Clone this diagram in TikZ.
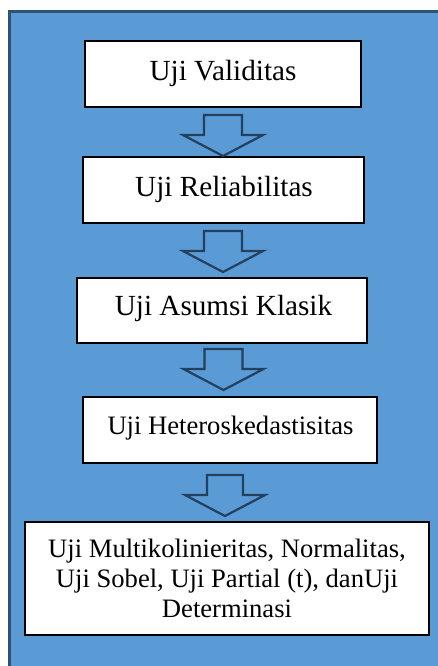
\documentclass[tikz,border=0pt]{standalone}
\usepackage{fontspec}
\setmainfont{Liberation Serif}
\definecolor{bg}{HTML}{5B9BD5}
\definecolor{framecol}{HTML}{2F5275}
\definecolor{arrcol}{HTML}{23405F}
\begin{document}
\begin{tikzpicture}[x=0.5pt,y=-0.5pt,
  box/.style={draw=black,line width=0.6pt,fill=white,inner sep=0pt},
  lbl/.style={anchor=base,inner sep=0pt,font=\fontsize{14.6}{17}\selectfont},
  lblsmall/.style={anchor=base,inner sep=0pt,font=\fontsize{13.3}{16}\selectfont},
  blockarrow/.style={draw=arrcol,line width=1.1pt,line join=miter}]
\useasboundingbox (0,0) rectangle (438,666);
\begin{scope}
  \clip (0,0) rectangle (438,666);
  \draw[fill=bg,draw=framecol,line width=1.4pt] (9.5,11.5) rectangle (470,700);
\end{scope}
% boxes
\node[box,minimum width=138pt,minimum height=33pt] (b1) at (223,74) {};
\node[box,minimum width=140.5pt,minimum height=33pt] (b2) at (223.5,190) {};
\node[box,minimum width=145pt,minimum height=32.5pt] (b3) at (222,310.5) {};
\node[box,minimum width=147pt,minimum height=33pt] (b4) at (230,430) {};
\node[box,minimum width=202pt,minimum height=56.5pt] (b5) at (227,578.5) {};
% labels
\node[lbl] (t1) at (223,80) {Uji Validitas};
\node[lbl] (t2) at (224,196) {Uji Reliabilitas};
\node[lbl] (t3) at (223.5,315) {Uji Asumsi Klasik};
\node[lblsmall] (t4) at (230.5,434) {Uji Heteroskedastisitas};
\node[lblsmall] (t5a) at (227,557) {Uji Multikolinieritas, Normalitas,};
\node[lblsmall] (t5b) at (227,587) {Uji Sobel, Uji Partial (t), danUji};
\node[lblsmall] (t5c) at (227,617.5) {Determinasi};
% block arrows
\foreach \cx/\sh/\hh/\top/\shd/\tip in {223/19/40/115/135/156, 223/19/40/231/251/272, 223.5/19/40/349/369/390, 225/18/40/475/495/516}{
  \draw[blockarrow] (\cx-\sh,\top) -- (\cx+\sh,\top) -- (\cx+\sh,\shd) -- (\cx+\hh,\shd)
     -- (\cx,\tip) -- (\cx-\hh,\shd) -- (\cx-\sh,\shd) -- cycle;
}
\end{tikzpicture}
\end{document}
